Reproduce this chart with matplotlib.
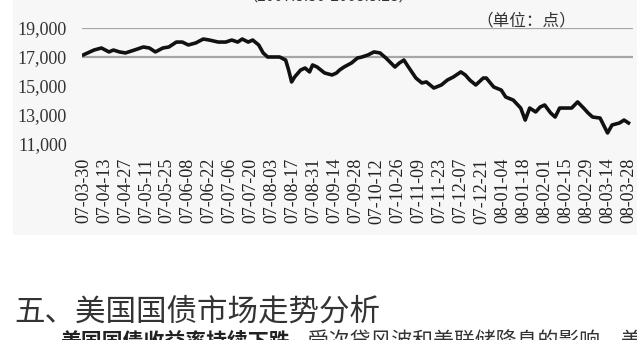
import matplotlib.pyplot as plt
import matplotlib.patches as mpatches
import pandas as pd

plt.rcParams['font.family'] = ['Noto Sans CJK SC', 'DejaVu Sans']

# values (index points)
dates = [
    '07-03-30', '07-04-06', '07-04-11', '07-04-16', '07-04-19', '07-04-23',
    '07-04-27', '07-05-03', '07-05-09', '07-05-13', '07-05-17', '07-05-22',
    '07-05-26', '07-05-31', '07-06-04', '07-06-08', '07-06-13', '07-06-18',
    '07-06-22', '07-06-28', '07-07-03', '07-07-07', '07-07-11', '07-07-14',
    '07-07-18', '07-07-21', '07-07-25', '07-07-28', '07-07-31', '07-08-05',
    '07-08-08', '07-08-12', '07-08-14', '07-08-16', '07-08-18', '07-08-22',
    '07-08-25', '07-08-28', '07-08-30', '07-09-02', '07-09-07', '07-09-12',
    '07-09-15', '07-09-17', '07-09-20', '07-09-25', '07-09-29', '07-10-02',
    '07-10-06', '07-10-10', '07-10-14', '07-10-18', '07-10-24', '07-10-27',
    '07-10-30', '07-11-02', '07-11-07', '07-11-11', '07-11-14', '07-11-19',
    '07-11-24', '07-11-28', '07-12-02', '07-12-07', '07-12-10', '07-12-13',
    '07-12-17', '07-12-22', '07-12-24', '07-12-29', '08-01-03', '08-01-06',
    '08-01-11', '08-01-16', '08-01-19', '08-01-22', '08-01-26', '08-01-29',
    '08-02-01', '08-02-05', '08-02-08', '08-02-11', '08-02-15', '08-02-19',
    '08-02-23', '08-02-27', '08-03-01', '08-03-04', '08-03-09', '08-03-14',
    '08-03-17', '08-03-22', '08-03-25', '08-03-28',
]
values = [
    17150, 17480, 17620, 17350, 17480, 17350,
    17280, 17480, 17690, 17620, 17350, 17620,
    17690, 18030, 18030, 17830, 17970, 18240,
    18170, 18030, 18030, 18170, 18030, 18240,
    18030, 18170, 17830, 17280, 17000, 17000,
    17000, 16790, 16100, 15280, 15620, 16100,
    16240, 15970, 16450, 16310, 15900, 15760,
    15900, 16100, 16310, 16590, 16930, 17000,
    17140, 17350, 17280, 16930, 16310, 16590,
    16790, 16310, 15550, 15210, 15280, 14860,
    15070, 15410, 15620, 15970, 15760, 15410,
    15070, 15550, 15550, 14930, 14720, 14240,
    14030, 13480, 12650, 13480, 13210, 13550,
    13690, 13140, 12860, 13480, 13480, 13480,
    13900, 13480, 13140, 12860, 12790, 11760,
    12310, 12450, 12650, 12450,
]

tick_labels = [
    '07-03-30', '07-04-13', '07-04-27', '07-05-11', '07-05-25', '07-06-08',
    '07-06-22', '07-07-06', '07-07-20', '07-08-03', '07-08-17', '07-08-31',
    '07-09-14', '07-09-28', '07-10-12', '07-10-26', '07-11-09', '07-11-23',
    '07-12-07', '07-12-21', '08-01-04', '08-01-18', '08-02-01', '08-02-15',
    '08-02-29', '08-03-14', '08-03-28',
]
y_ticks = [11000, 13000, 15000, 17000, 19000]
grid_levels = [17000, 19000]

title = '（2007.3.30-2008.3.28）'
unit = '（单位：点）'
heading = '五、美国国债市场走势分析'
body_bold = '美国国债收益率持续下跌'
body_rest = '，受次贷风波和美联储降息的影响，美国'

W, H = 637, 340
fig = plt.figure(figsize=(W / 100, H / 100), dpi=100)
fig.patch.set_facecolor('white')

# light grey box of the scanned chart, behind everything
fig.patches.append(mpatches.Rectangle((13 / W, 1 - 235 / H), 1 - 13 / W, 235 / H,
                                      transform=fig.transFigure,
                                      facecolor='#f7f7f7', edgecolor='none',
                                      zorder=-10))

ax = fig.add_axes([82 / W, 1 - 144 / H, 551 / W, 116 / H])
ax.patch.set_alpha(0)
ax.set_zorder(1)

x = pd.to_datetime(dates, format='%y-%m-%d')
xt = pd.to_datetime(tick_labels, format='%y-%m-%d')

for g in grid_levels:
    ax.axhline(g, color='#a6a6a6', lw=1.6, zorder=1)
ax.plot(x, values, color='#111111', lw=2.6, zorder=3)

ax.set_xlim(x[0] - pd.Timedelta(days=1), x[-1] + pd.Timedelta(days=3))
ax.set_ylim(11000, 19000)
ax.set_yticks(y_ticks)
ax.set_yticklabels(['{:,}'.format(v) for v in y_ticks],
                   family='Liberation Serif', fontsize=13, color='#333333')
ax.set_xticks(xt)
ax.set_xticklabels(tick_labels, rotation=90, family='Liberation Serif',
                   fontsize=13, color='#222222')
ax.tick_params(axis='y', length=0, pad=11)
ax.tick_params(axis='x', length=0, pad=10)
for s in ax.spines.values():
    s.set_visible(False)

fig.text(328 / W, 1 + 4 / H, title, ha='center', va='center',
         fontsize=11, color='#333333')
fig.text(526 / W, 1 - 21 / H, unit, ha='center', va='center',
         fontsize=12, color='#333333')

fig.text(14 / W, 1 - 312 / H, heading, ha='left', va='center',
         fontsize=22, color='#333333')
fig.text(60 / W, 1 - 331 / H, body_bold, ha='left', va='top',
         fontsize=15, fontweight='bold', color='#222222')
fig.text(287 / W, 1 - 331 / H, body_rest, ha='left', va='top',
         fontsize=15, color='#333333')

fig.savefig('out.png', dpi=100)
